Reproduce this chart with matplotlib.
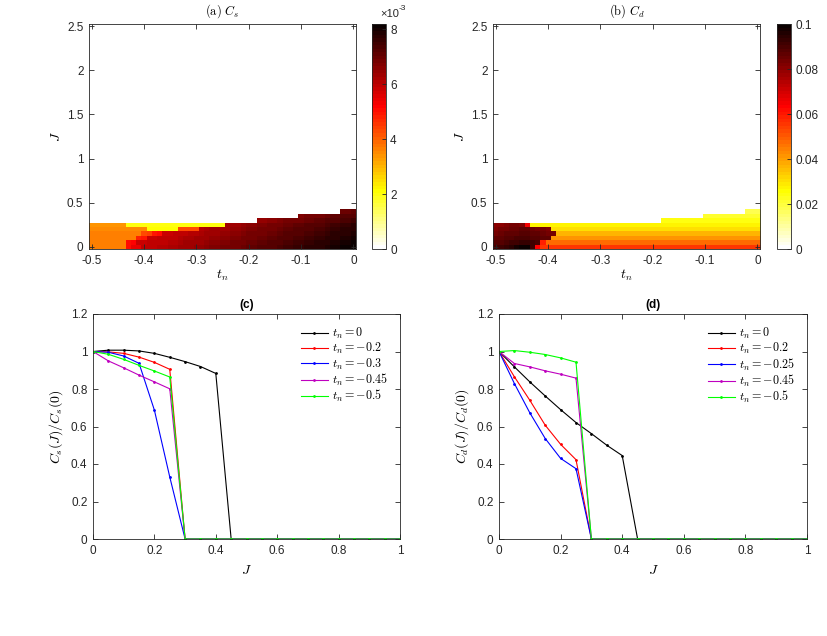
import numpy as np
import matplotlib
matplotlib.use('Agg')
import matplotlib.pyplot as plt
from matplotlib.colors import ListedColormap

plt.rcParams['font.family'] = ['Liberation Sans', 'DejaVu Sans']
plt.rcParams['mathtext.fontset'] = 'cm'
plt.rcParams['axes.unicode_minus'] = False

# ---- heat map data: rows J = 0, 0.05, ..., 0.4 ; columns t_n = -0.5 ... 0 (step 0.01)
tn_vals = np.round(np.arange(-0.5, 0.001, 0.01), 2)
J_vals = np.round(np.arange(0, 2.501, 0.05), 2)

# C_s in units of 1e-3
Cs_rows = [
    [3.7]*7 + [5.0, 5.4, 5.5, 5.9, 6.0, 6.0, 6.1, 6.1, 6.2, 6.2, 6.3, 6.4, 6.4,
               6.5, 6.5, 6.6, 6.7, 6.7, 6.8, 6.8, 6.9, 6.9, 7.0, 7.1, 7.1, 7.2, 7.2, 7.3,
               7.3, 7.4, 7.5, 7.5, 7.6, 7.6, 7.7, 7.7, 7.8, 7.8, 7.9, 8.0, 8.0, 8.1, 8.1, 8.2],
    [3.7]*7 + [5.0, 5.2, 5.8, 5.8, 5.9, 5.9, 6.0, 6.0, 6.1, 6.1, 6.2, 6.3, 6.3,
               6.4, 6.4, 6.5, 6.6, 6.6, 6.7, 6.7, 6.8, 6.8, 6.9, 7.0, 7.0, 7.1, 7.1, 7.2,
               7.2, 7.3, 7.4, 7.4, 7.5, 7.5, 7.6, 7.6, 7.7, 7.7, 7.8, 7.9, 7.9, 8.0, 8.0, 8.1],
    [3.6]*9 + [4.8, 4.9, 5.8, 5.8, 5.9, 5.9, 6.0, 6.0, 6.1, 6.2, 6.2,
               6.3, 6.3, 6.4, 6.5, 6.5, 6.6, 6.6, 6.7, 6.7, 6.8, 6.9, 6.9, 7.0, 7.0, 7.1,
               7.1, 7.2, 7.3, 7.3, 7.4, 7.4, 7.5, 7.5, 7.6, 7.6, 7.7, 7.8, 7.8, 7.9, 7.9, 8.0],
    [3.6]*10 + [4.3, 4.4, 4.9, 5.0, 5.8, 5.8, 5.9, 5.9, 6.0, 6.1,
                6.1, 6.2, 6.3, 6.3, 6.4, 6.5, 6.5, 6.6, 6.6, 6.7, 6.8, 6.8, 6.9, 6.9, 7.0,
                7.0, 7.1, 7.2, 7.2, 7.3, 7.3, 7.4, 7.4, 7.5, 7.5, 7.6, 7.7, 7.7, 7.8, 7.8, 7.9],
    [3.5]*11 + [2.1]*6 + [4.3]*4 + [6.1, 6.2, 6.3, 6.3, 6.4, 6.4, 6.5, 6.5, 6.6,
                                    6.7, 6.7, 6.8, 6.8, 6.9, 6.9, 7.0, 7.1, 7.1, 7.2,
                                    7.2, 7.3, 7.3, 7.4, 7.4, 7.5, 7.6, 7.6, 7.7, 7.7, 7.8],
    [3.4]*7 + [2.0]*19 + [6.3, 6.4, 6.4, 6.5, 6.6, 6.6, 6.7, 6.7, 6.8, 6.8, 6.9, 7.0, 7.0,
                          7.1, 7.1, 7.2, 7.2, 7.3, 7.3, 7.4, 7.5, 7.5, 7.6, 7.6, 7.7],
    [0]*32 + [6.5, 6.5, 6.6, 6.6, 6.7, 6.8, 6.8, 6.9, 6.9, 7.0, 7.0, 7.1, 7.1, 7.2, 7.3,
              7.3, 7.4, 7.4, 7.5],
    [0]*40 + [6.7, 6.8, 6.8, 6.9, 6.9, 7.0, 7.1, 7.1, 7.2, 7.2, 7.3],
    [0]*48 + [7.0, 7.0, 7.1],
]

# C_d in units of 1e-2
Cd_rows = [
    [9.0, 9.2, 9.3, 9.5, 9.7, 10.0, 10.0, 9.2, 6.3, 5.6] + [5.5]*41,
    [8.8, 8.9, 9.0, 9.1, 9.2, 9.3, 9.3, 9.2, 9.0, 5.9] + [4.8]*41,
    [8.6, 8.7, 8.8, 8.9, 9.0, 9.0, 9.0, 8.9, 8.8, 8.7, 8.6] + [4.2]*40,
    [8.4, 8.5, 8.6, 8.7, 8.7, 8.8, 8.8, 8.7, 8.6, 8.5, 8.4, 8.3] + [3.6]*39,
    [8.2, 8.3, 8.4, 8.5, 8.5, 8.6, 8.6, 8.5, 8.4, 8.3, 8.2] + [3.1]*40,
    [8.0, 8.1, 8.2, 8.3, 8.3, 8.2, 6.5] + [2.7]*44,
    [0]*32 + [2.4]*19,
    [0]*40 + [2.1]*11,
    [0]*48 + [1.8]*3,
]

# ---- line data
J_line = np.round(np.arange(0, 1.001, 0.05), 2)

cs_labels = ['0', '-0.2', '-0.3', '-0.45', '-0.5']
cs_curves = [
    [1.0, 1.007, 1.007, 1.003, 0.99, 0.969, 0.946, 0.92, 0.883, 0.0] + [0.0]*11,
    [1.0, 0.998, 0.99, 0.97, 0.942, 0.905] + [0.0]*15,
    [1.0, 0.996, 0.976, 0.937, 0.687, 0.331] + [0.0]*15,
    [1.0, 0.95, 0.913, 0.874, 0.838, 0.801] + [0.0]*15,
    [1.0, 0.985, 0.958, 0.926, 0.896, 0.864] + [0.0]*15,
]

cd_labels = ['0', '-0.2', '-0.25', '-0.45', '-0.5']
cd_curves = [
    [1.0, 0.918, 0.838, 0.763, 0.69, 0.621, 0.562, 0.5, 0.445, 0.0] + [0.0]*11,
    [1.0, 0.865, 0.74, 0.607, 0.505, 0.423] + [0.0]*15,
    [1.0, 0.829, 0.673, 0.536, 0.43, 0.375] + [0.0]*15,
    [1.0, 0.936, 0.918, 0.897, 0.879, 0.858] + [0.0]*15,
    [1.0, 1.005, 0.996, 0.984, 0.966, 0.943] + [0.0]*15,
]

line_colors = ['k', 'r', 'b', 'm', '#00ff00']

# MATLAB style flipped "hot" colormap (64 levels)
m = 64
n = int(3 * m / 8)
r = np.concatenate([np.arange(1, n + 1) / n, np.ones(m - n)])
g = np.concatenate([np.zeros(n), np.arange(1, n + 1) / n, np.ones(m - 2 * n)])
b = np.concatenate([np.zeros(2 * n), np.arange(1, m - 2 * n + 1) / (m - 2 * n)])
hot_r = ListedColormap(np.column_stack([r, g, b])[::-1])

W, H = 827, 636
fig = plt.figure(figsize=(W / 100, H / 100), dpi=100)

def box(x0, y0, x1, y1):
    return [x0 / W, 1 - y1 / H, (x1 - x0) / W, (y1 - y0) / H]

ax_a = fig.add_axes(box(89, 24, 356, 249))
cax_a = fig.add_axes(box(372, 24, 386, 249))
ax_b = fig.add_axes(box(493, 24, 760, 249))
cax_b = fig.add_axes(box(777, 24, 791, 249))
ax_c = fig.add_axes(box(93, 314, 400, 539))
ax_d = fig.add_axes(box(499, 314, 807, 539))

edge = '#262626'

def style(ax):
    for s in ax.spines.values():
        s.set_color(edge)
        s.set_linewidth(0.6)
    ax.tick_params(direction='in', top=True, right=True, length=3.5, width=0.6,
                   colors=edge, labelsize=8.5, pad=4)

def heat(ax, cax, rows, scale, vmax, cticks, ctlabels, title):
    full = np.zeros((len(J_vals), len(tn_vals)))
    full[:len(rows), :] = np.array(rows) * scale
    dt = tn_vals[1] - tn_vals[0]
    dj = J_vals[1] - J_vals[0]
    ext = [tn_vals[0] - dt / 2, tn_vals[-1] + dt / 2, J_vals[0] - dj / 2, J_vals[-1] + dj / 2]
    im = ax.imshow(full, origin='lower', aspect='auto', cmap=hot_r, vmin=0, vmax=vmax,
                   extent=ext, interpolation='nearest')
    ax.set_xlim(ext[0], ext[1])
    ax.set_ylim(ext[2], ext[3])
    ax.set_xticks([-0.5, -0.4, -0.3, -0.2, -0.1, 0])
    ax.set_xticklabels(['-0.5', '-0.4', '-0.3', '-0.2', '-0.1', '0'])
    ax.set_yticks([0, 0.5, 1, 1.5, 2, 2.5])
    ax.set_yticklabels(['0', '0.5', '1', '1.5', '2', '2.5'])
    style(ax)
    ax.set_xlabel(r'$t_n$', fontsize=10, labelpad=1)
    ax.set_ylabel(r'$J$', fontsize=10, labelpad=3)
    ax.set_title(title, fontsize=9, pad=7)
    cb = fig.colorbar(im, cax=cax)
    cb.set_ticks(cticks)
    cb.set_ticklabels(ctlabels)
    cb.outline.set_linewidth(0.6)
    cb.outline.set_edgecolor(edge)
    cax.tick_params(direction='in', length=3, width=0.6, colors=edge, labelsize=8.5, pad=3)
    return cb

heat(ax_a, cax_a, Cs_rows, 1e-3, 8.2e-3, [0, 2e-3, 4e-3, 6e-3, 8e-3],
     ['0', '2', '4', '6', '8'], r'$\mathrm{(a)}\ C_s$')
heat(ax_b, cax_b, Cd_rows, 1e-2, 0.1, [0, 0.02, 0.04, 0.06, 0.08, 0.1],
     ['0', '0.02', '0.04', '0.06', '0.08', '0.1'], r'$\mathrm{(b)}\ C_d$')

fig.text(380 / W, 1 - 14 / H, '×10', fontsize=8, color=edge, va='center')
fig.text(399 / W, 1 - 9 / H, '-3', fontsize=6, color=edge, va='center')

def lines(ax, curves, labels, title, ylab):
    for yv, lab, col in zip(curves, labels, line_colors):
        ax.plot(J_line, yv, color=col, lw=0.8, marker='.', ms=2,
                label=r'$t_n = ' + lab + '$')
    ax.set_xlim(0, 1)
    ax.set_ylim(0, 1.2)
    ax.set_xticks([0, 0.2, 0.4, 0.6, 0.8, 1])
    ax.set_xticklabels(['0', '0.2', '0.4', '0.6', '0.8', '1'])
    ax.set_yticks([0, 0.2, 0.4, 0.6, 0.8, 1, 1.2])
    ax.set_yticklabels(['0', '0.2', '0.4', '0.6', '0.8', '1', '1.2'])
    style(ax)
    ax.set_title(title, fontsize=8.5, fontweight='bold', pad=4)
    ax.set_xlabel(r'$J$', fontsize=10, labelpad=5)
    ax.set_ylabel(ylab, fontsize=10, labelpad=4)
    ax.legend(loc='upper right', frameon=False, fontsize=8.7, handlelength=2.25,
              handletextpad=0.33, labelspacing=0.02, borderaxespad=0.6)

lines(ax_c, cs_curves, cs_labels, '(c)', r'$C_s(J)/C_s(0)$')
lines(ax_d, cd_curves, cd_labels, '(d)', r'$C_d(J)/C_d(0)$')

fig.savefig('out.png', dpi=100)
